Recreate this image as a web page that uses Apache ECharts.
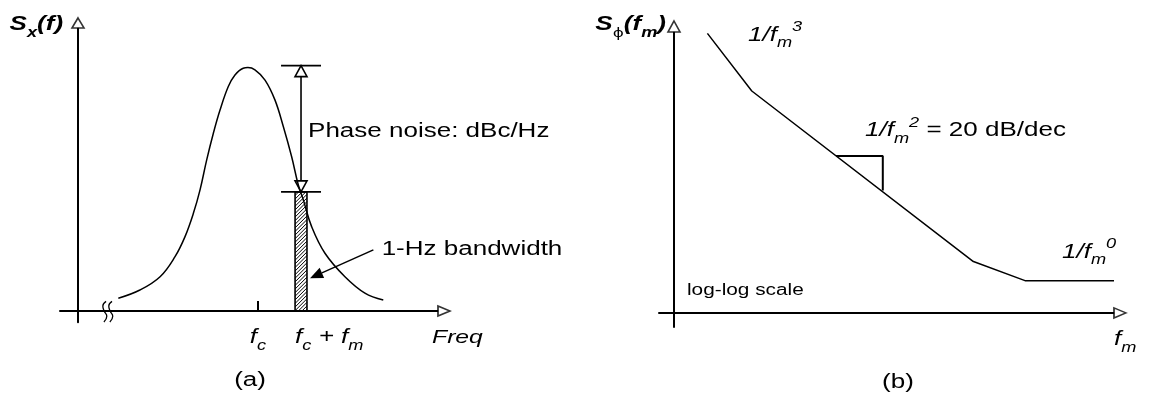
<!DOCTYPE html>
<html>
<head>
<meta charset="utf-8">
<title>Phase noise spectra</title>
<script src="https://cdn.jsdelivr.net/npm/echarts@6/dist/echarts.min.js"></script>
<style>
  html, body { margin: 0; padding: 0; background: #fff; }
  #chart { width: 1149px; height: 400px; }
</style>
</head>
<body>
<div id="chart"></div>
<script>
// ---------- Panel (a): oscillator output spectrum around the carrier ----------
const spectrumFreq  = [2.24, 3.44, 4.56, 5.39, 5.94, 6.41, 6.78, 7.15, 7.52, 7.89, 8.35, 8.72, 9.18,
                       9.44, 9.83, 10.39, 10.94, 11.41, 11.87, 12.24, 12.52, 12.98, 13.72, 14.83, 15.94, 16.96];
const spectrumLevel = [4.5, 7.4, 12.1, 19.2, 26.2, 34.5, 42.8, 53.4, 62.8, 71.0, 79.3, 83.4, 85.8,
                       86.0, 85.2, 81.6, 74.6, 65.1, 54.5, 44.5, 39.2, 29.8, 20.4, 12.1, 6.3, 3.9];
const carrierFreq = 10;            // f_c
const binEdges = [12.06, 12.72];   // 1-Hz slice at f_c + f_m
const binLevel = 42.1;             // spectrum level at f_c + f_m
const peakLevel = 86.7;            // carrier level
const guideSpan = [11.28, 13.5];   // extent of the two level guide lines
const guideX = 12.39;              // position of the double-headed arrow
const pointerTail = [16.41, 21.6];
const pointerHead = [12.89, 11.6];
// axis break glyph: two small wavy strokes across the frequency axis
const breakStrokeX = [1.56, 1.38, 1.45, 1.60, 1.44, null, 1.89, 1.71, 1.78, 1.93, 1.77];
const breakStrokeY = [3.4, 1.8, 0, -1.9, -3.9, null, 3.4, 1.8, 0, -1.9, -3.9];
const freqTickValues = [carrierFreq];

// ---------- Panel (b): single-sideband phase noise asymptotes (log-log) ----------
const offsetFreq = [1.67, 3.89, 14.97, 17.55, 22.0];
const noiseLevel = [99.5, 79.0, 18.3, 11.5, 11.5];
const slopeMarkX = [8.1, 10.44, 10.44];
const slopeMarkY = [55.9, 55.9, 43.6];

// ---------- text ----------
const INK = '#000';
const FONT = '"Liberation Sans", Arial, Helvetica, sans-serif';
const STRETCH = 1.3;   // the lettering is set wide
const B = 20, S = 14;

function face(size, extra) {
  return Object.assign({ fontFamily: FONT, fontSize: size, fill: INK, lineHeight: 30 }, extra || {});
}
const rich = {
  n:    face(B),
  i:    face(B, { fontStyle: 'italic' }),
  ax:   face(19, { fontStyle: 'italic' }),
  sub:  face(S, { fontStyle: 'italic', lineHeight: 18, verticalAlign: 'bottom' }),
  sup:  face(S, { fontStyle: 'italic', lineHeight: 18, verticalAlign: 'top' }),
  s:    face(16),
  b:    face(20, { fontStyle: 'italic', fontWeight: 'bold' }),
  bsub: face(14, { fontStyle: 'italic', fontWeight: 'bold', lineHeight: 18, verticalAlign: 'bottom' }),
  phi:  face(13, { fontFamily: '"DejaVu Sans", sans-serif', lineHeight: 18, verticalAlign: 'bottom' })
};

const leftNotes = [
  { at: [-0.83, 101.1], text: '{b|S}{bsub|x}{b|(f)}', align: 'right' },
  { at: [12.78, 63.6], text: '{n|Phase noise: dBc/Hz}', align: 'left' },
  { at: [16.87, 21.9], text: '{n|1-Hz bandwidth}', align: 'left' },
  { at: [carrierFreq, -9.5], text: '{i|f}{sub|c}', align: 'center' },
  { at: [binEdges[0], -9.5], text: '{i|f}{sub|c}{i| + f}{sub|m}', align: 'left' },
  { at: [19.67, -9.5], text: '{ax|Freq}', align: 'left' },
  { at: [9.56, -24.4], text: '{n|(a)}', align: 'center' }
];
const rightNotes = [
  { at: [-0.4, 102.5], text: '{b|S}{phi|\u03D5}{b|(f}{bsub|m}{b|)}', align: 'right' },
  { at: [3.7, 98.9], text: '{i|1/f}{sub|m}{sup|3}', align: 'left' },
  { at: [9.55, 64.8], text: '{i|1/f}{sub|m}{sup|2}{n| = 20 dB/dec}', align: 'left' },
  { at: [19.4, 21.5], text: '{i|1/f}{sub|m}{sup|0}', align: 'left' },
  { at: [0.65, 7.8], text: '{s|log-log scale}', align: 'left' },
  { at: [22.0, -9.6], text: '{i|f}{sub|m}', align: 'left' },
  { at: [11.2, -24.6], text: '{n|(b)}', align: 'center' }
];

function zip(xs, ys) { return xs.map((x, k) => (x === null ? null : [x, ys[k]])); }

// text anchored in data coordinates, widened horizontally
function noteSeries(notes, idx) {
  return {
    type: 'custom', xAxisIndex: idx, yAxisIndex: idx, silent: true, z: 6,
    data: notes.map((n, k) => [n.at[0], n.at[1], k]),
    renderItem: function (params, api) {
      const note = notes[api.value(2)];
      const p = api.coord([api.value(0), api.value(1)]);
      return {
        type: 'text', x: p[0], y: p[1], scaleX: STRETCH,
        style: { text: note.text, rich: rich, align: note.align, verticalAlign: 'middle',
                 fill: INK, fontFamily: FONT, fontSize: B }
      };
    }
  };
}

// hollow arrowheads at the axis ends
function axisHeadSeries(idx, xEnd, yEnd, yHead) {
  return {
    type: 'scatter', xAxisIndex: idx, yAxisIndex: idx, silent: true, clip: false, z: 5,
    symbol: 'triangle',
    itemStyle: { color: '#fff', borderColor: INK, borderWidth: 1.6 },
    data: [
      { value: [xEnd, 0], symbolSize: [10, 12], symbolRotate: -90, symbolOffset: [6, 0] },
      { value: [0, yEnd], symbolSize: [12, yHead], symbolOffset: [0, -yHead / 2] }
    ]
  };
}

// hatched 1-Hz slice
function renderSlice(params, api) {
  const p0 = api.coord([api.value(0), api.value(2)]);
  const p1 = api.coord([api.value(1), 0]);
  const x = p0[0], y = p0[1], w = p1[0] - p0[0], h = p1[1] - p0[1];
  const lines = [];
  for (let c = x + y; c < x + w + y + h + 4; c += 3.6) {
    const lo = Math.max(x, c - y - h), hi = Math.min(x + w, c - y);
    if (hi > lo) {
      lines.push({ type: 'line', shape: { x1: lo, y1: c - lo, x2: hi, y2: c - hi },
                   style: { stroke: INK, lineWidth: 1 } });
    }
  }
  lines.push({ type: 'rect', shape: { x: x, y: y, width: w, height: h },
               style: { fill: 'none', stroke: INK, lineWidth: 1.6 } });
  return { type: 'group', children: lines };
}

// two level lines with a double-headed arrow between them
function renderGuide(params, api) {
  const xm = api.value(0), yTop = api.value(1), yBot = api.value(2);
  const top = api.coord([xm, yTop]), bot = api.coord([xm, yBot]);
  const l = api.coord([api.value(3), yTop])[0], r = api.coord([api.value(4), yTop])[0];
  const hw = 6, hl = 11;
  const st = { stroke: INK, lineWidth: 1.6, fill: 'none' };
  return {
    type: 'group',
    children: [
      { type: 'line', shape: { x1: l, y1: top[1], x2: r, y2: top[1] }, style: st },
      { type: 'line', shape: { x1: l, y1: bot[1], x2: r, y2: bot[1] }, style: st },
      { type: 'line', shape: { x1: top[0], y1: top[1] + hl, x2: bot[0], y2: bot[1] - hl }, style: st },
      { type: 'polygon', shape: { points: [[top[0], top[1]], [top[0] - hw, top[1] + hl], [top[0] + hw, top[1] + hl]] }, style: st },
      { type: 'polygon', shape: { points: [[bot[0], bot[1]], [bot[0] - hw, bot[1] - hl], [bot[0] + hw, bot[1] - hl]] }, style: st }
    ]
  };
}

// straight pointer with a solid head
function renderPointer(params, api) {
  const a = api.coord([api.value(0), api.value(1)]);
  const b = api.coord([api.value(2), api.value(3)]);
  const dx = b[0] - a[0], dy = b[1] - a[1], len = Math.hypot(dx, dy);
  const ux = dx / len, uy = dy / len, headLen = 13, headHalf = 5.5;
  const base = [b[0] - ux * headLen, b[1] - uy * headLen];
  return {
    type: 'group',
    children: [
      { type: 'line', shape: { x1: a[0], y1: a[1], x2: base[0], y2: base[1] }, style: { stroke: INK, lineWidth: 1.5 } },
      { type: 'polygon', shape: { points: [[b[0], b[1]],
          [base[0] - uy * headHalf, base[1] + ux * headHalf],
          [base[0] + uy * headHalf, base[1] - ux * headHalf]] }, style: { fill: INK } }
    ]
  };
}

const axisLineStyle = { show: true, onZero: true, lineStyle: { color: INK, width: 2 } };
const bare = { axisTick: { show: false }, axisLabel: { show: false }, splitLine: { show: false } };

const option = {
  backgroundColor: '#fff',
  animation: false,
  textStyle: { fontFamily: FONT },
  grid: [
    { left: 60, top: 28, width: 378, height: 294.3 },
    { left: 659, top: 32, width: 455, height: 295 }
  ],
  xAxis: [
    Object.assign({}, bare, {
      type: 'value', gridIndex: 0, min: -1, max: 20, axisLine: axisLineStyle,
      axisTick: { show: true, customValues: freqTickValues, inside: true, length: 10, lineStyle: { color: INK, width: 2 } }
    }),
    Object.assign({}, bare, { type: 'value', gridIndex: 1, min: -0.75, max: 22, axisLine: axisLineStyle })
  ],
  yAxis: [
    Object.assign({}, bare, { type: 'value', gridIndex: 0, min: -4, max: 100, axisLine: axisLineStyle }),
    Object.assign({}, bare, { type: 'value', gridIndex: 1, min: -5, max: 100, axisLine: axisLineStyle })
  ],
  series: [
    // panel (a)
    { type: 'custom', xAxisIndex: 0, yAxisIndex: 0, silent: true, z: 2,
      data: [[binEdges[0], binEdges[1], binLevel]], renderItem: renderSlice },
    { type: 'custom', xAxisIndex: 0, yAxisIndex: 0, silent: true, z: 2,
      data: [[guideX, peakLevel, binLevel, guideSpan[0], guideSpan[1]]], renderItem: renderGuide },
    { type: 'line', xAxisIndex: 0, yAxisIndex: 0, silent: true, z: 3, smooth: 0.4, symbol: 'none',
      lineStyle: { color: INK, width: 1.5 }, data: zip(spectrumFreq, spectrumLevel) },
    { type: 'line', xAxisIndex: 0, yAxisIndex: 0, silent: true, z: 3, smooth: 0.5, symbol: 'none',
      connectNulls: false, lineStyle: { color: INK, width: 1.3 }, data: zip(breakStrokeX, breakStrokeY) },
    { type: 'custom', xAxisIndex: 0, yAxisIndex: 0, silent: true, z: 4,
      data: [[pointerTail[0], pointerTail[1], pointerHead[0], pointerHead[1]]], renderItem: renderPointer },
    axisHeadSeries(0, 20, 100, 10),
    noteSeries(leftNotes, 0),
    // panel (b)
    { type: 'line', xAxisIndex: 1, yAxisIndex: 1, silent: true, z: 3, symbol: 'none',
      lineStyle: { color: INK, width: 1.5 }, data: zip(offsetFreq, noiseLevel) },
    { type: 'line', xAxisIndex: 1, yAxisIndex: 1, silent: true, z: 3, symbol: 'none',
      lineStyle: { color: INK, width: 2 }, data: zip(slopeMarkX, slopeMarkY) },
    axisHeadSeries(1, 22, 100, 11),
    noteSeries(rightNotes, 1)
  ]
};

const chart = echarts.init(document.getElementById('chart'), null, { renderer: 'canvas' });
chart.setOption(option);
</script>
</body>
</html>
